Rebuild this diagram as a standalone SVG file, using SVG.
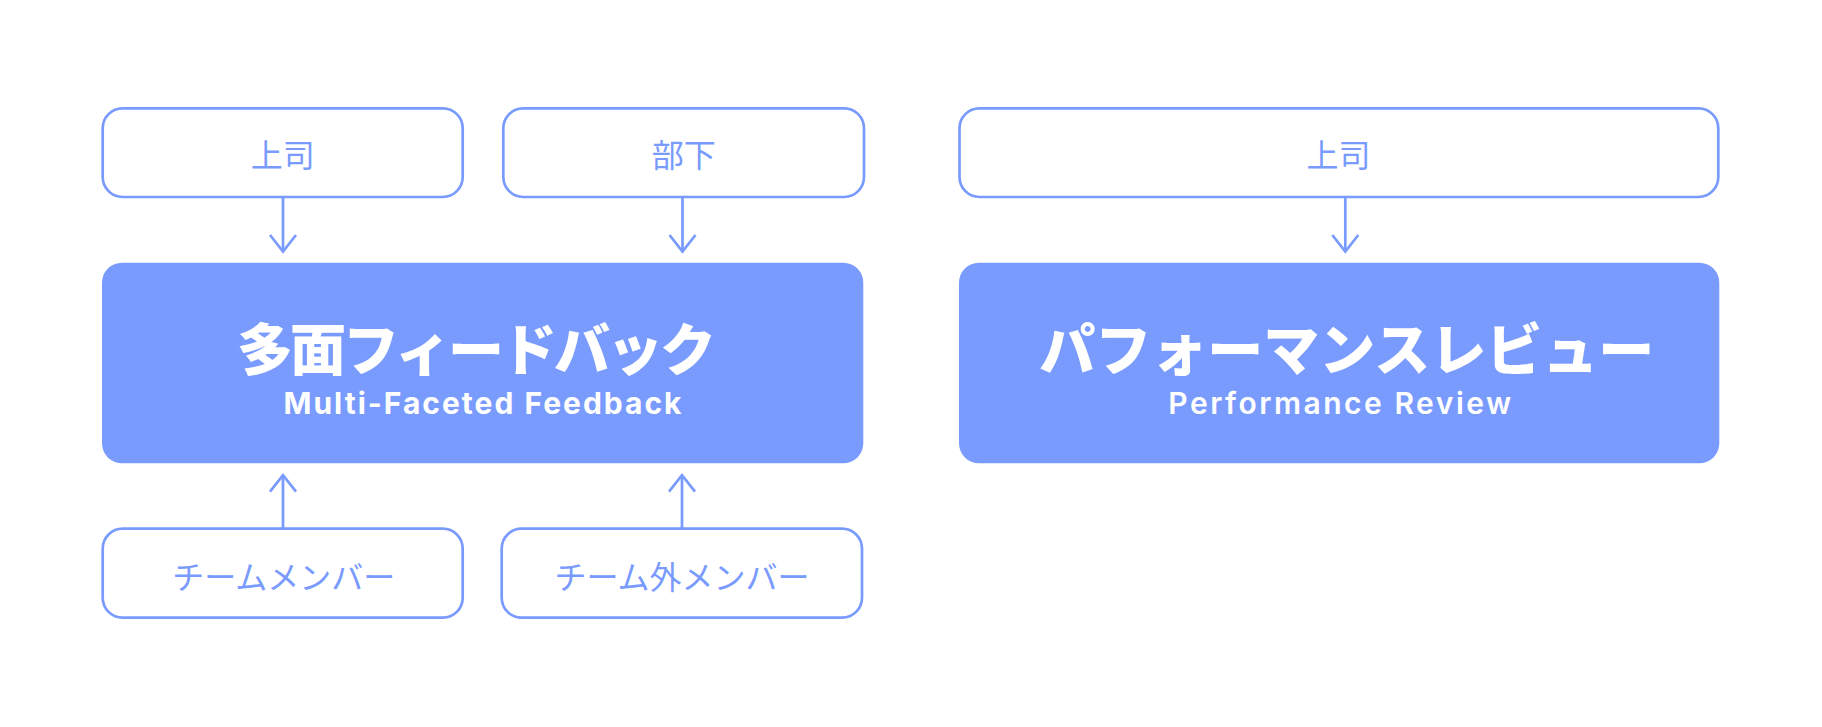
<svg xmlns="http://www.w3.org/2000/svg" width="1822" height="727" viewBox="0 0 1822 727">
<defs>
<style>
.box{fill:#ffffff;stroke:#7A9BFE;stroke-width:2.7}
.main{fill:#7A9BFE}
.lbl{font-family:"Noto Sans CJK JP","Noto Sans CJK SC",sans-serif;font-size:32px;font-weight:400;fill:#7A9BFE;text-anchor:middle;dominant-baseline:central}
.ttl{font-family:"Noto Sans CJK JP","Noto Sans CJK SC",sans-serif;font-size:56px;font-weight:900;fill:#ffffff;text-anchor:middle}
.sub{font-family:Inter,"Liberation Sans",sans-serif;font-size:30px;fill:#ffffff;text-anchor:middle}
.con{fill:none;stroke:#7A9BFE;stroke-width:2.7;stroke-linejoin:miter}
</style>
</defs>
<rect width="1822" height="727" fill="#ffffff"/>
<g id="boss-left">
<rect class="box" x="102.7" y="108.3" width="360" height="88.7" rx="20"/>
<text class="lbl" x="282.7" y="152.6">上司</text>
</g>
<g id="subordinate">
<rect class="box" x="503.3" y="108.3" width="360.7" height="88.7" rx="20"/>
<text class="lbl" x="683.7" y="152.6">部下</text>
</g>
<g id="boss-right">
<rect class="box" x="959.5" y="108.3" width="758.8" height="88.7" rx="20"/>
<text class="lbl" x="1338.5" y="152.6">上司</text>
</g>
<g id="multi-faceted-feedback">
<rect class="main" x="102" y="262.7" width="761.3" height="200.6" rx="20"/>
<text class="ttl" x="475" y="370" letter-spacing="-3">多面フィードバック</text>
<text class="sub" x="483.5" y="414" font-weight="700" letter-spacing="2">Multi-Faceted Feedback</text>
</g>
<g id="performance-review">
<rect class="main" x="959" y="262.7" width="760.3" height="200.6" rx="20"/>
<text class="ttl" x="1346.7" y="370">パフォーマンスレビュー</text>
<text class="sub" x="1341" y="414" font-weight="600" letter-spacing="2.5">Performance Review</text>
</g>
<g id="team-members">
<rect class="box" x="102.7" y="528.7" width="360" height="89" rx="20"/>
<text class="lbl" x="283.8" y="574.5">チームメンバー</text>
</g>
<g id="external-members">
<rect class="box" x="501.7" y="528.7" width="360.3" height="89" rx="20"/>
<text class="lbl" x="682" y="574.5">チーム外メンバー</text>
</g>
<g id="connectors">
<line class="con" x1="283" y1="197" x2="283" y2="251"/>
<polyline class="con" points="270,235 283,251.5 296,235"/>
<line class="con" x1="682.5" y1="197" x2="682.5" y2="251"/>
<polyline class="con" points="669.5,235 682.5,251.5 695.5,235"/>
<line class="con" x1="1345.3" y1="197" x2="1345.3" y2="251"/>
<polyline class="con" points="1332.3,235 1345.3,251.5 1358.3,235"/>
<line class="con" x1="283" y1="528.7" x2="283" y2="476"/>
<polyline class="con" points="270,491.7 283,475.2 296,491.7"/>
<line class="con" x1="682" y1="528.7" x2="682" y2="476"/>
<polyline class="con" points="669,491.7 682,475.2 695,491.7"/>
</g>
</svg>
